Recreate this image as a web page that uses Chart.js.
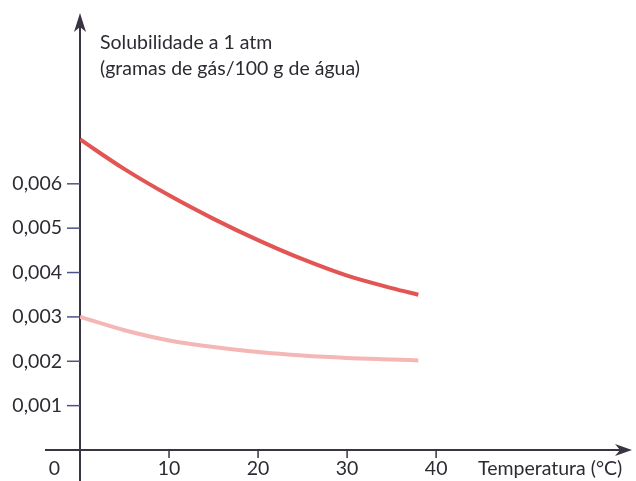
<!DOCTYPE html>
<html>
<head>
<meta charset="utf-8">
<script src="https://cdn.jsdelivr.net/npm/chart.js@4"></script>
<style>
  html, body { margin: 0; padding: 0; background: #fff; }
  #wrap { width: 636px; height: 481px; }
</style>
</head>
<body>
<div id="wrap"><canvas id="solChart" width="636" height="481"></canvas></div>
<script>
// temperatura (°C) e solubilidade (g de gás / 100 g de água)
const temps = [0, 5, 10, 15, 20, 25, 30, 35, 38];
const gasEscuro = [0.0070, 0.00633, 0.00574, 0.00521, 0.00473, 0.00430, 0.00393, 0.00365, 0.0035];
const gasClaro = [0.0030, 0.00270, 0.00247, 0.00232, 0.00221, 0.00213, 0.002075, 0.00204, 0.00202];

const xTicks = [10, 20, 30, 40];
const yTicks = [0.001, 0.002, 0.003, 0.004, 0.005, 0.006];
const tituloY = ['Solubilidade a 1 atm', '(gramas de gás/100 g de água)'];
const tituloX = 'Temperatura (°C)';

const corEixo = '#3a3340';
const corTexto = '#2e2a33';
const fonte = '19.5px Lato, "Open Sans", sans-serif';

function pontos(ys) {
    return temps.map(function(t, i) { return { x: t, y: ys[i] }; });
}

// eixos com setas, marcas e rótulos desenhados a partir das escalas
const eixosPlugin = {
    id: 'eixos',
    beforeDatasetsDraw: function(chart) {
        const ctx = chart.ctx;
        const xs = chart.scales.x;
        const ys = chart.scales.y;
        const x0 = xs.getPixelForValue(0);
        const y0 = ys.getPixelForValue(0);
        const xEnd = chart.chartArea.right;
        const yTop = chart.chartArea.top;

        ctx.save();
        ctx.strokeStyle = corEixo;
        ctx.fillStyle = corEixo;
        ctx.lineWidth = 2;

        // eixo vertical
        ctx.beginPath();
        ctx.moveTo(x0, chart.height);
        ctx.lineTo(x0, yTop + 14);
        ctx.stroke();
        ctx.beginPath();
        ctx.moveTo(x0, yTop);
        ctx.lineTo(x0 - 6, yTop + 19);
        ctx.lineTo(x0, yTop + 14);
        ctx.lineTo(x0 + 6, yTop + 19);
        ctx.closePath();
        ctx.fill();

        // eixo horizontal
        ctx.beginPath();
        ctx.moveTo(45, y0);
        ctx.lineTo(xEnd - 12, y0);
        ctx.stroke();
        ctx.beginPath();
        ctx.moveTo(xEnd, y0);
        ctx.lineTo(xEnd - 17, y0 - 6);
        ctx.lineTo(xEnd - 12, y0);
        ctx.lineTo(xEnd - 17, y0 + 6);
        ctx.closePath();
        ctx.fill();

        // marcas do eixo y
        ctx.lineWidth = 1.5;
        ctx.strokeStyle = '#4e5288';
        yTicks.forEach(function(v) {
            const py = ys.getPixelForValue(v);
            ctx.beginPath();
            ctx.moveTo(x0 - 13, py);
            ctx.lineTo(x0, py);
            ctx.stroke();
        });

        // marcas do eixo x
        ctx.strokeStyle = corEixo;
        xTicks.forEach(function(v) {
            const px = xs.getPixelForValue(v);
            ctx.beginPath();
            ctx.moveTo(px, y0);
            ctx.lineTo(px, y0 + 8);
            ctx.stroke();
        });

        // rótulos
        ctx.fillStyle = corTexto;
        ctx.font = fonte;
        ctx.textBaseline = 'middle';
        ctx.textAlign = 'right';
        yTicks.forEach(function(v) {
            ctx.fillText(v.toFixed(3).replace('.', ','), x0 - 18, ys.getPixelForValue(v));
        });
        ctx.fillText('0', x0 - 20, y0 + 19);

        ctx.textAlign = 'center';
        xTicks.forEach(function(v) {
            ctx.fillText(String(v), xs.getPixelForValue(v), y0 + 19);
        });

        ctx.textAlign = 'left';
        ctx.fillText(tituloX, 478, y0 + 19);
        ctx.fillText(tituloY[0], x0 + 20, 43);
        ctx.fillText(tituloY[1], x0 + 20, 69);
        ctx.restore();
    }
};

const ctx = document.getElementById('solChart').getContext('2d');
const solChart = new Chart(ctx, {
    type: 'scatter',
    data: {
        datasets: [{
            data: pontos(gasEscuro),
            showLine: true,
            borderColor: '#e25553',
            borderWidth: 4,
            borderCapStyle: 'butt',
            cubicInterpolationMode: 'monotone',
            pointRadius: 0
        }, {
            data: pontos(gasClaro),
            showLine: true,
            borderColor: '#f5b6b6',
            borderWidth: 4,
            borderCapStyle: 'butt',
            cubicInterpolationMode: 'monotone',
            pointRadius: 0
        }]
    },
    options: {
        responsive: false,
        animation: false,
        layout: { padding: { left: 80, right: 4, top: 13, bottom: 31 } },
        plugins: { legend: { display: false }, tooltip: { enabled: false } },
        scales: {
            x: { type: 'linear', min: 0, max: 62, display: false },
            y: { type: 'linear', min: 0, max: 0.00985, display: false }
        }
    },
    plugins: [eixosPlugin]
});
</script>
</body>
</html>
